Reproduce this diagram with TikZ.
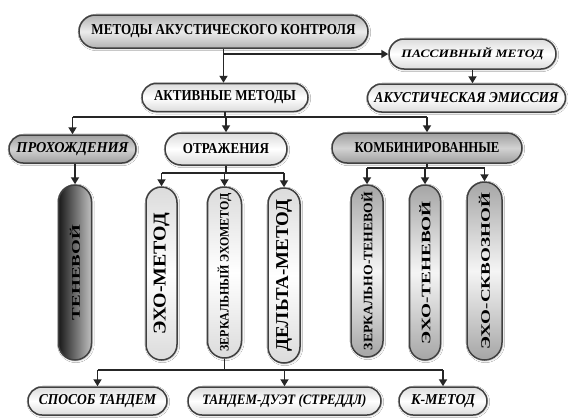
\documentclass[tikz,border=0pt]{standalone}
\usepackage{fontspec}
\setmainfont{Liberation Serif}
\usepackage{graphicx}
\usetikzlibrary{shapes.misc,arrows.meta,shadows.blur}
\newcommand{\fitbox}[3]{\resizebox{#1pt}{#2pt}{#3}}
\tikzset{
  pill/.style={rounded rectangle, inner sep=0pt, line width=1.5pt, draw=black!75,
    text=black, blur shadow={shadow xshift=0.8pt, shadow yshift=-0.8pt, shadow blur steps=5, shadow opacity=25}},
  lightfill/.style={top color=gray!28, bottom color=gray!28, middle color=white},
  darkfill/.style={top color=gray!75, bottom color=gray!75, middle color=gray!35},
  topfill/.style={top color=gray!60, bottom color=gray!60, middle color=gray!15},
  cylfill/.style={top color=gray!70, bottom color=gray!70, middle color=gray!8},
  tenfill/.style={left color=black!90, right color=gray!50},
  arr/.style={line width=1.8pt, draw=black!85, -{Triangle[length=7pt,width=8pt]}},
  busline/.style={line width=1.8pt, draw=black!85},
}
\begin{document}
\begin{tikzpicture}[x=1pt,y=-1pt]
\useasboundingbox[fill=white] (0,0) rectangle (568,418);
% level 0
\node[pill,topfill,minimum width=289pt,minimum height=33pt] (top) at (223.5,31.5)
  {\fitbox{264}{10}{\bfseries МЕТОДЫ АКУСТИЧЕСКОГО КОНТРОЛЯ}};
\node[pill,lightfill,minimum width=167pt,minimum height=30pt] (passive) at (472.5,54)
  {\fitbox{142}{10}{\bfseries\itshape ПАССИВНЫЙ МЕТОД}};
\node[pill,lightfill,minimum width=198pt,minimum height=28pt] (emis) at (466.5,98)
  {\fitbox{184}{10}{\bfseries\itshape АКУСТИЧЕСКАЯ ЭМИССИЯ}};
\node[pill,lightfill,minimum width=166pt,minimum height=28pt] (aktiv) at (225,97.5)
  {\fitbox{142}{10}{\bfseries АКТИВНЫЕ МЕТОДЫ}};
% level 2
\node[pill,darkfill,minimum width=127pt,minimum height=28pt] (prox) at (72.5,149)
  {\fitbox{112}{10}{\bfseries\itshape ПРОХОЖДЕНИЯ}};
\node[pill,lightfill,minimum width=122pt,minimum height=32pt] (otraz) at (226,149)
  {\fitbox{86}{10}{\bfseries ОТРАЖЕНИЯ}};
\node[pill,darkfill,minimum width=190pt,minimum height=30pt] (komb) at (427,148)
  {\fitbox{145}{10}{\bfseries КОМБИНИРОВАННЫЕ}};
% vertical pills
\node[pill,tenfill,rotate=90,minimum width=175pt,minimum height=33pt] (ten) at (75,272.5)
  {\fitbox{95}{10}{\bfseries ТЕНЕВОЙ}};
\node[pill,lightfill,rotate=90,minimum width=173pt,minimum height=31pt] (echo) at (161.5,273.5)
  {\fitbox{121}{12}{\bfseries ЭХО-МЕТОД}};
\node[pill,lightfill,rotate=90,minimum width=171pt,minimum height=34pt] (zerk) at (224.5,272.5)
  {\fitbox{158}{11}{\bfseries ЗЕРКАЛЬНЫЙ ЭХОМЕТОД}};
\node[pill,lightfill,rotate=90,minimum width=175pt,minimum height=32pt] (delta) at (284,275.5)
  {\fitbox{152}{12}{\bfseries ДЕЛЬТА-МЕТОД}};
\node[pill,cylfill,rotate=90,minimum width=172pt,minimum height=32pt] (zten) at (367,271)
  {\fitbox{158}{11}{\bfseries ЗЕРКАЛЬНО-ТЕНЕВОЙ}};
\node[pill,cylfill,rotate=90,minimum width=175pt,minimum height=31pt] (eten) at (425,272.5)
  {\fitbox{143}{11}{\bfseries ЭХО-ТЕНЕВОЙ}};
\node[pill,cylfill,rotate=90,minimum width=178pt,minimum height=35pt] (eskv) at (484.5,271)
  {\fitbox{156}{11}{\bfseries ЭХО-СКВОЗНОЙ}};
% bottom
\node[pill,lightfill,minimum width=139pt,minimum height=28pt] (sposob) at (97.5,401)
  {\fitbox{117}{10}{\bfseries\itshape СПОСОБ ТАНДЕМ}};
\node[pill,lightfill,minimum width=193pt,minimum height=28pt] (tandem) at (284.5,401)
  {\fitbox{164}{10}{\bfseries\itshape ТАНДЕМ-ДУЭТ (СТРЕДДЛ)}};
\node[pill,lightfill,minimum width=88pt,minimum height=28pt] (kmet) at (443,401)
  {\fitbox{64}{10}{\bfseries\itshape К-МЕТОД}};
% connectors
\draw[arr] (top.south) -- (top.south |- aktiv.north);
\draw[arr] (top.south |- passive.west) -- (passive.west);
\draw[arr] (passive.south) -- (passive.south |- emis.north);
\coordinate (busA) at (0,117);
\draw[busline] (aktiv.south) -- (aktiv.south |- busA);
\draw[busline] (prox.north |- busA) -- (komb.north |- busA);
\draw[arr] (prox.north |- busA) -- (prox.north);
\draw[arr] (otraz.north |- busA) -- (otraz.north);
\draw[arr] (komb.north |- busA) -- (komb.north);
\draw[arr] (ten.east |- prox.south) -- (ten.east);
\coordinate (busO) at (0,173);
\draw[busline] (otraz.south) -- (otraz.south |- busO);
\draw[busline] (echo.east |- busO) -- (delta.east |- busO);
\draw[arr] (echo.east |- busO) -- (echo.east);
\draw[arr] (zerk.east |- busO) -- (zerk.east);
\draw[arr] (delta.east |- busO) -- (delta.east);
\coordinate (busK) at (0,168);
\draw[busline] (komb.south) -- (komb.south |- busK);
\draw[busline] (zten.east |- busK) -- (eskv.east |- busK);
\draw[arr] (zten.east |- busK) -- (zten.east);
\draw[arr] (eten.east |- busK) -- (eten.east);
\draw[arr] (eskv.east |- busK) -- (eskv.east);
\coordinate (busB) at (0,370);
\draw[busline] (zerk.west) -- (zerk.west |- busB);
\draw[busline] (sposob.north |- busB) -- (kmet.north |- busB);
\draw[arr] (sposob.north |- busB) -- (sposob.north);
\draw[arr] (tandem.north |- busB) -- (tandem.north);
\draw[arr] (kmet.north |- busB) -- (kmet.north);
\end{tikzpicture}
\end{document}
